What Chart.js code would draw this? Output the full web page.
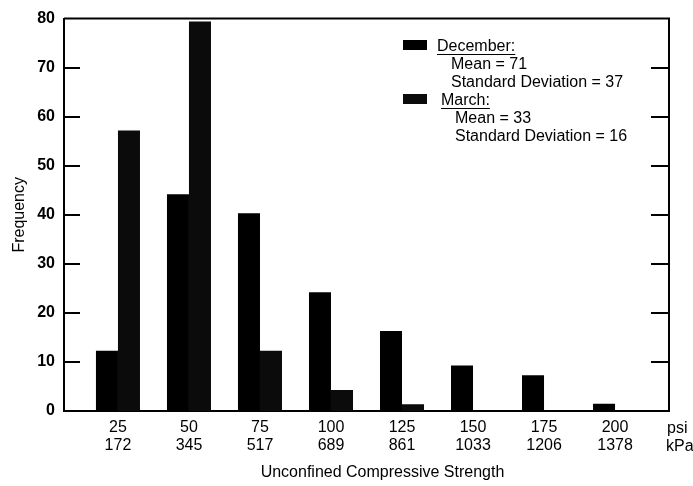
<!DOCTYPE html>
<html>
<head>
<meta charset="utf-8">
<title>Unconfined Compressive Strength</title>
<script src="https://cdn.jsdelivr.net/npm/chart.js@4.4.0/dist/chart.umd.min.js"></script>
<style>
  html, body { margin: 0; padding: 0; background: #fff; }
  #chartWrap { width: 693px; height: 486px; }
</style>
</head>
<body>
<div id="chartWrap"><canvas id="strengthChart" width="693" height="486"></canvas></div>
<script>
// strength classes (psi) and the matching kPa values
const psiClasses = [25, 50, 75, 100, 125, 150, 175, 200];
const kpaClasses = [172, 345, 517, 689, 861, 1033, 1206, 1378];

// frequencies
const decemberFreq = [12.3, 44.2, 40.3, 24.2, 16.3, 9.3, 7.3, 1.5];
const marchFreq = [57.2, 79.4, 12.3, 4.3, 1.4, 0, 0, 0];

const yTicks = [0, 10, 20, 30, 40, 50, 60, 70, 80];

// legend text
const seriesNames = ['December:', 'March:'];
const seriesMeans = [71, 33];
const seriesStdDevs = [37, 16];

const FONT = "'Liberation Sans', Arial, Helvetica, sans-serif";

const framePlugin = {
    id: 'frame',
    afterDraw(chart) {
        const { ctx, chartArea: a, scales: { y } } = chart;
        ctx.save();
        ctx.strokeStyle = '#000';
        ctx.lineWidth = 2;

        // top + right edges of the box, and inward ticks on both sides
        ctx.beginPath();
        ctx.moveTo(a.left, a.top);
        ctx.lineTo(a.right, a.top);
        ctx.lineTo(a.right, a.bottom);
        yTicks.slice(1, -1).forEach(v => {
            const py = Math.round(y.getPixelForValue(v));
            ctx.moveTo(a.left, py);
            ctx.lineTo(a.left + 16, py);
            ctx.moveTo(a.right, py);
            ctx.lineTo(a.right - 18, py);
        });
        ctx.stroke();

        ctx.fillStyle = '#000';
        ctx.font = '16px ' + FONT;
        ctx.textBaseline = 'middle';

        // unit labels at the end of the x axis
        ctx.textAlign = 'left';
        ctx.fillText('psi', a.right - 2, a.bottom + 18);
        ctx.fillText('kPa', a.right - 3, a.bottom + 36);

        // x axis title
        ctx.textAlign = 'center';
        ctx.fillText('Unconfined Compressive Strength', (a.left + a.right) / 2 + 16, a.bottom + 62);

        // legend block
        ctx.textAlign = 'left';
        const colors = chart.data.datasets.map(d => d.backgroundColor);
        const rowTop = [47, 101];
        seriesNames.forEach((name, i) => {
            const ty = rowTop[i];
            const tx = 437 + i * 4;
            ctx.fillStyle = colors[i];
            ctx.fillRect(403, ty - 7, 24, 10);
            ctx.fillStyle = '#000';
            ctx.fillText(name, tx, ty);
            const w = ctx.measureText(name).width;
            ctx.fillRect(tx, ty + 7, w, 1);
            ctx.fillText('Mean = ' + seriesMeans[i], tx + 14, ty + 18);
            ctx.fillText('Standard Deviation = ' + seriesStdDevs[i], tx + 14, ty + 36);
        });
        ctx.restore();
    }
};

function buildSeries(values) {
    return psiClasses.map((p, i) => ({ x: p, y: values[i] }));
}

document.addEventListener('DOMContentLoaded', function() {
    Chart.defaults.font.family = FONT;
    Chart.defaults.font.size = 16;
    Chart.defaults.color = '#000';

    const ctx = document.getElementById('strengthChart');
    new Chart(ctx, {
        type: 'bar',
        data: {
            datasets: [{
                label: 'December',
                data: buildSeries(decemberFreq),
                backgroundColor: '#000000',
                categoryPercentage: 0.62,
                barPercentage: 1
            }, {
                label: 'March',
                data: buildSeries(marchFreq),
                backgroundColor: '#0b0b0b',
                categoryPercentage: 0.62,
                barPercentage: 1
            }]
        },
        options: {
            responsive: false,
            animation: false,
            events: [],
            layout: { padding: { top: 16, right: 24, left: 0, bottom: 0 } },
            plugins: {
                legend: { display: false },
                tooltip: { enabled: false }
            },
            scales: {
                x: {
                    type: 'linear',
                    min: 6,
                    max: 219,
                    offset: false,
                    afterBuildTicks: scale => {
                        scale.ticks = psiClasses.map(v => ({ value: v }));
                    },
                    ticks: {
                        autoSkip: false,
                        maxRotation: 0,
                        padding: 8,
                        font: { size: 16, lineHeight: 1.125 },
                        callback: function(value) {
                            const i = psiClasses.indexOf(value);
                            return i < 0 ? '' : [String(value), String(kpaClasses[i])];
                        }
                    },
                    grid: { display: false, drawTicks: false, offset: false },
                    border: { color: '#000', width: 2 },
                    afterFit: scale => { scale.height = 75; }
                },
                y: {
                    min: 0,
                    max: 80,
                    afterBuildTicks: scale => {
                        scale.ticks = yTicks.map(v => ({ value: v }));
                    },
                    ticks: { padding: 9, font: { size: 16, weight: 'bold' } },
                    grid: { display: false, drawTicks: false },
                    border: { color: '#000', width: 2 },
                    title: {
                        display: true,
                        text: 'Frequency',
                        padding: { top: 10, bottom: 0 }
                    },
                    afterFit: scale => { scale.width = 64; }
                }
            }
        },
        plugins: [framePlugin]
    });
});
</script>
</body>
</html>
